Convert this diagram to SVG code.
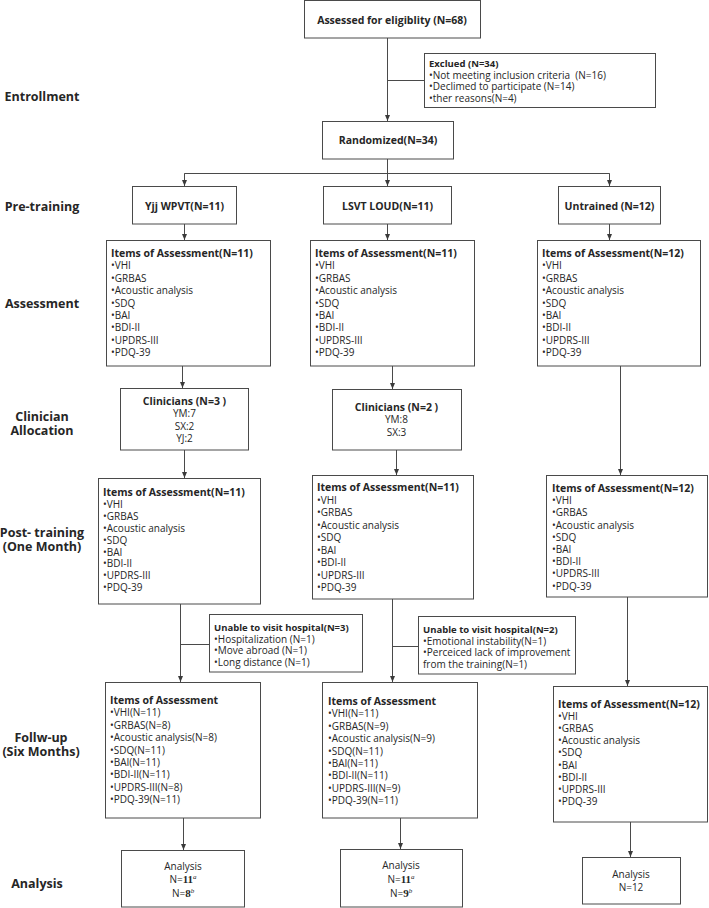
<svg xmlns="http://www.w3.org/2000/svg" width="709" height="908" viewBox="0 0 709 908">
<style>
.bg{fill:#ffffff}
.box{fill:#ffffff;stroke:#4a4a4a;stroke-width:1}
.ln{fill:none;stroke:#4a4a4a;stroke-width:1}
.t{font-family:"Open Sans","Noto Sans",sans-serif;font-size:10px;fill:#262626}
.b{font-weight:bold;font-size:10.5px}
.hs{font-weight:bold;font-size:9.5px}
.m{text-anchor:middle}
.lab{font-family:"Open Sans","Noto Sans",sans-serif;font-weight:bold;font-size:12.5px;fill:#262626;text-anchor:middle}
.sup{font-family:"Liberation Serif",serif;font-style:italic;font-size:7px}
.num{font-family:"Liberation Serif",serif;font-weight:bold;font-size:11px}
</style>
<defs>
<marker id="ah" viewBox="0 0 6 6" refX="6" refY="3" markerWidth="6" markerHeight="6" orient="auto" markerUnits="userSpaceOnUse">
<path d="M0,0.5 L6,3 L0,5.5 z" fill="#3a3a3a"/>
</marker>
</defs>
<rect class="bg" x="0" y="0" width="709" height="908"/>

<g id="labels">
<text class="lab" x="42" y="101">Entrollment</text>
<text class="lab" x="42" y="210.5">Pre-training</text>
<text class="lab" x="42" y="307.5">Assessment</text>
<text class="lab" x="42" y="420.5">Clinician</text>
<text class="lab" x="42" y="434.5">Allocation</text>
<text class="lab" x="42" y="536.5">Post- training</text>
<text class="lab" x="42" y="550.5">(One Month)</text>
<text class="lab" x="41" y="741.5">Follw-up</text>
<text class="lab" x="41" y="755.5">(Six Months)</text>
<text class="lab" x="37" y="887.5">Analysis</text>
</g>

<g id="connectors">
<line class="ln" x1="387.5" y1="38" x2="387.5" y2="121" marker-end="url(#ah)"/>
<line class="ln" x1="387.5" y1="80.5" x2="424" y2="80.5"/>
<polyline class="ln" points="387.5,159 387.5,173.5"/>
<polyline class="ln" points="184.5,180 184.5,173.5 609.5,173.5 609.5,180"/>
<line class="ln" x1="184.5" y1="173.5" x2="184.5" y2="186" marker-end="url(#ah)"/>
<line class="ln" x1="387.5" y1="173.5" x2="387.5" y2="186" marker-end="url(#ah)"/>
<line class="ln" x1="609.5" y1="173.5" x2="609.5" y2="186" marker-end="url(#ah)"/>
<line class="ln" x1="184.5" y1="224" x2="184.5" y2="240" marker-end="url(#ah)"/>
<line class="ln" x1="387.5" y1="224" x2="387.5" y2="240" marker-end="url(#ah)"/>
<line class="ln" x1="609.5" y1="224" x2="609.5" y2="240" marker-end="url(#ah)"/>
<line class="ln" x1="182.5" y1="366" x2="182.5" y2="388" marker-end="url(#ah)"/>
<line class="ln" x1="392.5" y1="366" x2="392.5" y2="389" marker-end="url(#ah)"/>
<line class="ln" x1="620.5" y1="366" x2="620.5" y2="475" marker-end="url(#ah)"/>
<line class="ln" x1="184.5" y1="450" x2="184.5" y2="478" marker-end="url(#ah)"/>
<line class="ln" x1="396.5" y1="450" x2="396.5" y2="475" marker-end="url(#ah)"/>
<line class="ln" x1="180.5" y1="604" x2="180.5" y2="682" marker-end="url(#ah)"/>
<line class="ln" x1="180.5" y1="644.5" x2="209" y2="644.5"/>
<line class="ln" x1="392.5" y1="599" x2="392.5" y2="682" marker-end="url(#ah)"/>
<line class="ln" x1="392.5" y1="646.5" x2="418" y2="646.5"/>
<line class="ln" x1="627.5" y1="597" x2="627.5" y2="686" marker-end="url(#ah)"/>
<line class="ln" x1="183.5" y1="818" x2="183.5" y2="850" marker-end="url(#ah)"/>
<line class="ln" x1="400.5" y1="818" x2="400.5" y2="849" marker-end="url(#ah)"/>
<line class="ln" x1="630.5" y1="822" x2="630.5" y2="857" marker-end="url(#ah)"/>
</g>

<g id="n-assessed">
<rect class="box" x="304.5" y="0.5" width="176" height="37.5"/>
<text class="t b m" x="392" y="24" font-size="11">Assessed for eligiblity (N=68)</text>
</g>

<g id="n-excluded">
<rect class="box" x="424.5" y="53.5" width="231" height="54"/>
<text class="t" x="429" y="67"><tspan class="hs">Exclued (N=34)</tspan><tspan x="429" dy="11.7">•Not meeting inclusion criteria&#160; (N=16)</tspan><tspan x="429" dy="11.7">•Declimed to participate (N=14)</tspan><tspan x="429" dy="11.7">•ther reasons(N=4)</tspan></text>
</g>

<g id="n-randomized">
<rect class="box" x="322.5" y="121.5" width="131" height="37.5"/>
<text class="t b m" x="388" y="144" font-size="11">Randomized(N=34)</text>
</g>

<g id="n-yjj">
<rect class="box" x="132.5" y="186.5" width="104" height="37.5"/>
<text class="t b m" x="184.5" y="209.5" font-size="10.5">Yjj WPVT(N=11)</text>
</g>
<g id="n-lsvt">
<rect class="box" x="323.5" y="186.5" width="128" height="37.5"/>
<text class="t b m" x="387.5" y="209.5" font-size="10.5">LSVT LOUD(N=11)</text>
</g>
<g id="n-untrained">
<rect class="box" x="558.5" y="186.5" width="102" height="37.5"/>
<text class="t b m" x="609.5" y="209.5" font-size="10.5">Untrained (N=12)</text>
</g>

<g id="n-assess1">
<rect class="box" x="106.5" y="240.5" width="164" height="125.5"/>
<text class="t" x="111" y="257"><tspan class="b">Items of Assessment(N=11)</tspan><tspan x="111" dy="12.4">•VHI</tspan><tspan x="111" dy="12.4">•GRBAS</tspan><tspan x="111" dy="12.4">•Acoustic analysis</tspan><tspan x="111" dy="12.4">•SDQ</tspan><tspan x="111" dy="12.4">•BAI</tspan><tspan x="111" dy="12.4">•BDI-II</tspan><tspan x="111" dy="12.4">•UPDRS-III</tspan><tspan x="111" dy="12.4">•PDQ-39</tspan></text>
</g>
<g id="n-assess2">
<rect class="box" x="310.5" y="240.5" width="164" height="125.5"/>
<text class="t" x="315" y="257"><tspan class="b">Items of Assessment(N=11)</tspan><tspan x="315" dy="12.4">•VHI</tspan><tspan x="315" dy="12.4">•GRBAS</tspan><tspan x="315" dy="12.4">•Acoustic analysis</tspan><tspan x="315" dy="12.4">•SDQ</tspan><tspan x="315" dy="12.4">•BAI</tspan><tspan x="315" dy="12.4">•BDI-II</tspan><tspan x="315" dy="12.4">•UPDRS-III</tspan><tspan x="315" dy="12.4">•PDQ-39</tspan></text>
</g>
<g id="n-assess3">
<rect class="box" x="537.5" y="240.5" width="163" height="125.5"/>
<text class="t" x="542" y="257"><tspan class="b">Items of Assessment(N=12)</tspan><tspan x="542" dy="12.4">•VHI</tspan><tspan x="542" dy="12.4">•GRBAS</tspan><tspan x="542" dy="12.4">•Acoustic analysis</tspan><tspan x="542" dy="12.4">•SDQ</tspan><tspan x="542" dy="12.4">•BAI</tspan><tspan x="542" dy="12.4">•BDI-II</tspan><tspan x="542" dy="12.4">•UPDRS-III</tspan><tspan x="542" dy="12.4">•PDQ-39</tspan></text>
</g>

<g id="n-clin1">
<rect class="box" x="120.5" y="388.5" width="128" height="61.5"/>
<text class="t m" x="184.5" y="405"><tspan class="b">Clinicians (N=3 )</tspan><tspan x="184.5" dy="12.3">YM:7</tspan><tspan x="184.5" dy="12.3">SX:2</tspan><tspan x="184.5" dy="12.3">YJ:2</tspan></text>
</g>
<g id="n-clin2">
<rect class="box" x="332.5" y="389.5" width="129" height="60.5"/>
<text class="t m" x="396.5" y="411"><tspan class="b">Clinicians (N=2 )</tspan><tspan x="396.5" dy="12.4">YM:8</tspan><tspan x="396.5" dy="12.4">SX:3</tspan></text>
</g>

<g id="n-post1">
<rect class="box" x="98.5" y="478.5" width="162" height="125.5"/>
<text class="t" x="103" y="496"><tspan class="b">Items of Assessment(N=11)</tspan><tspan x="103" dy="11.9">•VHI</tspan><tspan x="103" dy="11.9">•GRBAS</tspan><tspan x="103" dy="11.9">•Acoustic analysis</tspan><tspan x="103" dy="11.9">•SDQ</tspan><tspan x="103" dy="11.9">•BAI</tspan><tspan x="103" dy="11.9">•BDI-II</tspan><tspan x="103" dy="11.9">•UPDRS-III</tspan><tspan x="103" dy="11.9">•PDQ-39</tspan></text>
</g>
<g id="n-post2">
<rect class="box" x="312.5" y="475.5" width="161" height="123.5"/>
<text class="t" x="317" y="491"><tspan class="b">Items of Assessment(N=11)</tspan><tspan x="317" dy="12.5">•VHI</tspan><tspan x="317" dy="12.5">•GRBAS</tspan><tspan x="317" dy="12.5">•Acoustic analysis</tspan><tspan x="317" dy="12.5">•SDQ</tspan><tspan x="317" dy="12.5">•BAI</tspan><tspan x="317" dy="12.5">•BDI-II</tspan><tspan x="317" dy="12.5">•UPDRS-III</tspan><tspan x="317" dy="12.5">•PDQ-39</tspan></text>
</g>
<g id="n-post3">
<rect class="box" x="546.5" y="475.5" width="161" height="121.5"/>
<text class="t" x="552" y="492"><tspan class="b">Items of Assessment(N=12)</tspan><tspan x="552" dy="12.2">•VHI</tspan><tspan x="552" dy="12.2">•GRBAS</tspan><tspan x="552" dy="12.2">•Acoustic analysis</tspan><tspan x="552" dy="12.2">•SDQ</tspan><tspan x="552" dy="12.2">•BAI</tspan><tspan x="552" dy="12.2">•BDI-II</tspan><tspan x="552" dy="12.2">•UPDRS-III</tspan><tspan x="552" dy="12.2">•PDQ-39</tspan></text>
</g>

<g id="n-unable1">
<rect class="box" x="209.5" y="614.5" width="153" height="57.5"/>
<text class="t" x="214" y="631"><tspan class="hs">Unable to visit hospital(N=3)</tspan><tspan x="214" dy="11.5">•Hospitalization (N=1)</tspan><tspan x="214" dy="11.5">•Move abroad (N=1)</tspan><tspan x="214" dy="11.5">•Long distance (N=1)</tspan></text>
</g>
<g id="n-unable2">
<rect class="box" x="418.5" y="616.5" width="157" height="57.5"/>
<text class="t" x="423" y="633"><tspan class="hs">Unable to visit hospital(N=2)</tspan><tspan x="423" dy="11.7">•Emotional instability(N=1)</tspan><tspan x="423" dy="11.7">•Perceiced lack of improvement</tspan><tspan x="423" dy="11.7">from the training(N=1)</tspan></text>
</g>

<g id="n-follow1">
<rect class="box" x="105.5" y="682.5" width="155" height="135.5"/>
<text class="t" x="110" y="704"><tspan class="b">Items of Assessment</tspan><tspan x="110" dy="12.4">•VHI(N=11)</tspan><tspan x="110" dy="12.4">•GRBAS(N=8)</tspan><tspan x="110" dy="12.4">•Acoustic analysis(N=8)</tspan><tspan x="110" dy="12.4">•SDQ(N=11)</tspan><tspan x="110" dy="12.4">•BAI(N=11)</tspan><tspan x="110" dy="12.4">•BDI-II(N=11)</tspan><tspan x="110" dy="12.4">•UPDRS-III(N=8)</tspan><tspan x="110" dy="12.4">•PDQ-39(N=11)</tspan></text>
</g>
<g id="n-follow2">
<rect class="box" x="322.5" y="682.5" width="155" height="135.5"/>
<text class="t" x="328" y="705"><tspan class="b">Items of Assessment</tspan><tspan x="328" dy="12.4">•VHI(N=11)</tspan><tspan x="328" dy="12.4">•GRBAS(N=9)</tspan><tspan x="328" dy="12.4">•Acoustic analysis(N=9)</tspan><tspan x="328" dy="12.4">•SDQ(N=11)</tspan><tspan x="328" dy="12.4">•BAI(N=11)</tspan><tspan x="328" dy="12.4">•BDI-II(N=11)</tspan><tspan x="328" dy="12.4">•UPDRS-III(N=9)</tspan><tspan x="328" dy="12.4">•PDQ-39(N=11)</tspan></text>
</g>
<g id="n-follow3">
<rect class="box" x="553.5" y="686.5" width="154" height="135.5"/>
<text class="t" x="558" y="708"><tspan class="b">Items of Assessment(N=12)</tspan><tspan x="558" dy="12.1">•VHI</tspan><tspan x="558" dy="12.1">•GRBAS</tspan><tspan x="558" dy="12.1">•Acoustic analysis</tspan><tspan x="558" dy="12.1">•SDQ</tspan><tspan x="558" dy="12.1">•BAI</tspan><tspan x="558" dy="12.1">•BDI-II</tspan><tspan x="558" dy="12.1">•UPDRS-III</tspan><tspan x="558" dy="12.1">•PDQ-39</tspan></text>
</g>

<g id="n-analysis1">
<rect class="box" x="121.5" y="850.5" width="123" height="56.5"/>
<text class="t m" x="183" y="869.5">Analysis</text>
<text class="t m" x="183" y="883">N=<tspan class="num">11</tspan><tspan class="sup" dy="-4">a</tspan></text>
<text class="t m" x="183" y="897">N=<tspan class="num">8</tspan><tspan class="sup" dy="-4">b</tspan></text>
</g>
<g id="n-analysis2">
<rect class="box" x="340.5" y="849.5" width="122" height="57.5"/>
<text class="t m" x="401" y="869">Analysis</text>
<text class="t m" x="401" y="882.5">N=<tspan class="num">11</tspan><tspan class="sup" dy="-4">a</tspan></text>
<text class="t m" x="401" y="896.5">N=<tspan class="num">9</tspan><tspan class="sup" dy="-4">b</tspan></text>
</g>
<g id="n-analysis3">
<rect class="box" x="582.5" y="857.5" width="98" height="46.5"/>
<text class="t m" x="631" y="878">Analysis</text>
<text class="t m" x="631" y="891">N=12</text>
</g>
</svg>
